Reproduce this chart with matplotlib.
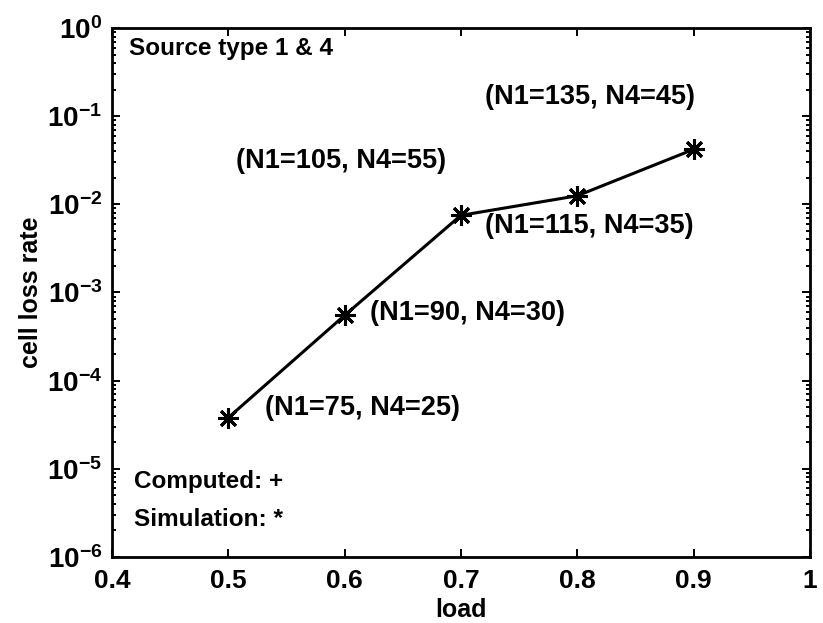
import numpy as np
import matplotlib
matplotlib.use("Agg")
import matplotlib.pyplot as plt
from matplotlib.ticker import NullFormatter

plt.rcParams["font.family"] = ["Liberation Sans", "DejaVu Sans"]
plt.rcParams["font.weight"] = "bold"
plt.rcParams["axes.labelweight"] = "bold"
plt.rcParams["mathtext.default"] = "bf"

# load vs cell loss rate (simulation points)
load = [0.5, 0.6, 0.7, 0.8, 0.9]
loss = [3.8e-5, 5.5e-4, 7.5e-3, 1.25e-2, 4.2e-2]

# point labels: (text, x, y)
notes = ["(N1=75, N4=25)", "(N1=90, N4=30)", "(N1=105, N4=55)", "(N1=115, N4=35)", "(N1=135, N4=45)"]
note_x = [0.532, 0.622, 0.507, 0.721, 0.721]
note_y = [10**-4.31, 10**-3.23, 10**-1.51, 10**-2.24, 10**-0.78]

xticks = [0.4, 0.5, 0.6, 0.7, 0.8, 0.9, 1.0]
xticklabels = ["0.4", "0.5", "0.6", "0.7", "0.8", "0.9", "1"]

fig = plt.figure(figsize=(8.23, 6.23), dpi=100)
ax = fig.add_axes([0.136, 0.106, 0.848, 0.849])

ax.plot(load, loss, "-", color="black", lw=2.2, marker=(8, 2, 0), ms=15, mew=2.2, mec="black")
ax.set_yscale("log")
ax.set_xlim(0.4, 1.0); ax.set_ylim(1e-6, 1)
ax.set_xticks(xticks); ax.set_xticklabels(xticklabels)
ax.yaxis.set_minor_formatter(NullFormatter())

for t, x, y in zip(notes, note_x, note_y):
    ax.text(x, y, t, fontsize=19.5, va="center", ha="left")

ax.text(0.415, 10**-0.23, "Source type 1 & 4", fontsize=17.5, va="center")
ax.text(0.419, 10**-5.14, "Computed: +", fontsize=17.5, va="center")
ax.text(0.419, 10**-5.58, "Simulation: *", fontsize=17.5, va="center")

ax.set_xlabel("load", fontsize=18, labelpad=3)
ax.set_ylabel("cell loss rate", fontsize=18, labelpad=3)
ax.tick_params(which="both", direction="in", top=True, right=True, width=1.4)
ax.tick_params(axis="x", labelsize=19, pad=9)
ax.tick_params(axis="y", labelsize=20, pad=7)
ax.tick_params(which="major", length=6)
ax.tick_params(which="minor", length=3)
for s in ax.spines.values():
    s.set_linewidth(2)

fig.savefig("out.png", dpi=100)
